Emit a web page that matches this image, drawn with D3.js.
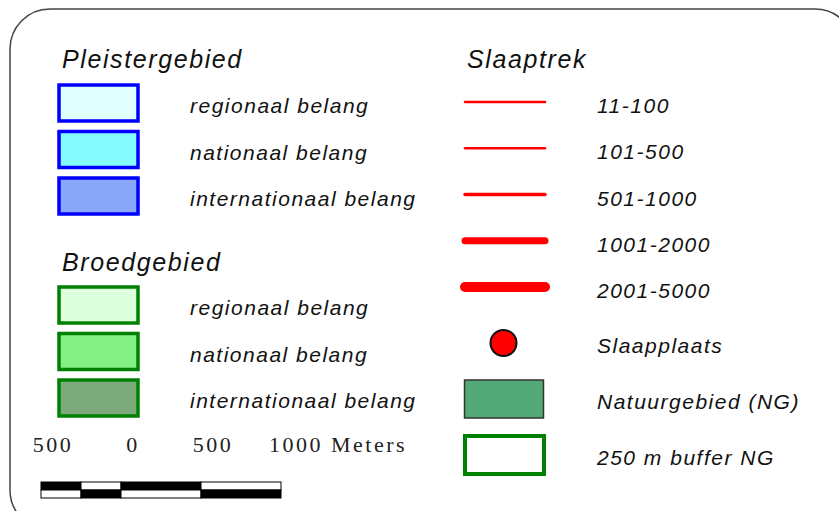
<html>
<head>
	<script src="https://cdn.jsdelivr.net/npm/d3@7"></script>
	<style type="text/css">
	body { margin: 0; background: white; }
	text { font-family: "Liberation Sans", Arial, sans-serif; font-style: italic; fill: #111; }
	.scale text { font-family: "Liberation Serif", "DejaVu Serif", serif; font-style: normal; fill: #222; }
	</style>
</head>
<body>
<script type="text/javascript">
	var w = 839;
	var h = 511;

	// legend data
	var pleisterTitle = "Pleistergebied";
	var pleisterLabels = ["regionaal belang", "nationaal belang", "internationaal belang"];
	var pleisterFills = ["#e0ffff", "#84fbff", "#8aa8fa"];
	var broedTitle = "Broedgebied";
	var broedLabels = ["regionaal belang", "nationaal belang", "internationaal belang"];
	var broedFills = ["#dcffdc", "#84f084", "#7caa7c"];
	var trekTitle = "Slaaptrek";
	var trekLabels = ["11-100", "101-500", "501-1000", "1001-2000", "2001-5000"];
	var trekWidths = [2.5, 2.5, 3.5, 7, 10];
	var otherLabels = ["Slaapplaats", "Natuurgebied (NG)", "250 m buffer NG"];
	var scaleTicks = [-500, 0, 500, 1000];
	var scaleSegments = [-500, -250, 0, 500, 1000];

	var svg = d3.select("body")
		.append("svg")
		.attr("width", w)
		.attr("height", h);

	svg.append("rect")
		.attr("x", 10)
		.attr("y", 9)
		.attr("width", 845)
		.attr("height", 521)
		.attr("rx", 40)
		.attr("fill", "white")
		.attr("stroke", "#444")
		.attr("stroke-width", 1.5);

	// row scales
	var yPleister = d3.scalePoint().domain(pleisterLabels.map(function(d, i) {return i;})).range([103, 196]);
	var yBroed = d3.scalePoint().domain(broedLabels.map(function(d, i) {return i;})).range([305, 398]);
	var yTrek = d3.scalePoint().domain(trekLabels).range([102, 287]);
	var yOther = d3.scalePoint().domain(otherLabels).range([343, 455]);

	function group(title, titleY, labels, fills, yScale, stroke) {
		svg.append("text")
			.text(title)
			.attr("x", 62)
			.attr("y", titleY)
			.attr("font-size", 25)
			.attr("letter-spacing", "1.6px");
		svg.selectAll(null)
			.data(labels)
			.enter()
			.append("rect")
			.attr("x", 59)
			.attr("y", function(d, i) {return yScale(i) - 18;})
			.attr("width", 79)
			.attr("height", 36)
			.attr("fill", function(d, i) {return fills[i];})
			.attr("stroke", stroke)
			.attr("stroke-width", 3.5);
		svg.selectAll(null)
			.data(labels)
			.enter()
			.append("text")
			.text(function(d) {return d;})
			.attr("x", 190)
			.attr("y", function(d, i) {return yScale(i) + 10;})
			.attr("font-size", 21)
			.attr("letter-spacing", "1.5px");
	}

	group(pleisterTitle, 68, pleisterLabels, pleisterFills, yPleister, "#0000ff");
	group(broedTitle, 271, broedLabels, broedFills, yBroed, "#008000");

	// Slaaptrek
	svg.append("text")
		.text(trekTitle)
		.attr("x", 467)
		.attr("y", 68)
		.attr("font-size", 25)
		.attr("letter-spacing", "1.6px");
	svg.selectAll(null)
		.data(trekLabels)
		.enter()
		.append("line")
		.attr("x1", 465)
		.attr("x2", 545)
		.attr("y1", function(d) {return yTrek(d);})
		.attr("y2", function(d) {return yTrek(d);})
		.attr("stroke", "#ff0000")
		.attr("stroke-linecap", "round")
		.attr("stroke-width", function(d, i) {return trekWidths[i];});
	svg.selectAll(null)
		.data(trekLabels.concat(otherLabels))
		.enter()
		.append("text")
		.text(function(d) {return d;})
		.attr("x", 597)
		.attr("y", function(d, i) {return i < trekLabels.length ? yTrek(d) + 11 : yOther(d) + 10;})
		.attr("font-size", 21)
		.attr("letter-spacing", "1.5px");

	// symbols
	svg.append("circle")
		.attr("cx", 503.5)
		.attr("cy", yOther(otherLabels[0]))
		.attr("r", 13)
		.attr("fill", "#ff0000")
		.attr("stroke", "#111")
		.attr("stroke-width", 2);
	svg.append("rect")
		.attr("x", 464.5)
		.attr("y", yOther(otherLabels[1]) - 19)
		.attr("width", 79)
		.attr("height", 38)
		.attr("fill", "#52a877")
		.attr("stroke", "#333")
		.attr("stroke-width", 1.5);
	svg.append("rect")
		.attr("x", 465)
		.attr("y", yOther(otherLabels[2]) - 19)
		.attr("width", 79)
		.attr("height", 38)
		.attr("fill", "white")
		.attr("stroke", "#008000")
		.attr("stroke-width", 4);

	// scale bar
	var xScale = d3.scaleLinear().domain([-500, 1000]).range([41, 281]);
	var sc = svg.append("g").attr("class", "scale");
	sc.selectAll(null)
		.data(scaleTicks)
		.enter()
		.append("text")
		.text(function(d, i) {return Math.abs(d) + (i == scaleTicks.length - 1 ? " Meters" : "");})
		.attr("x", function(d, i) {return i == scaleTicks.length - 1 ? xScale(d) - 12 : xScale(d) + 12;})
		.attr("y", 452)
		.attr("text-anchor", function(d, i) {return i == scaleTicks.length - 1 ? "start" : "middle";})
		.attr("font-size", 22)
		.attr("letter-spacing", "2.5px");
	var segs = d3.pairs(scaleSegments);
	[0, 1].forEach(function(row) {
		sc.selectAll(null)
			.data(segs)
			.enter()
			.append("rect")
			.attr("x", function(d) {return xScale(d[0]);})
			.attr("y", 482 + row * 8)
			.attr("width", function(d) {return xScale(d[1]) - xScale(d[0]);})
			.attr("height", 8)
			.attr("fill", function(d, i) {return (i + row) % 2 == 0 ? "black" : "white";})
			.attr("stroke", "black")
			.attr("stroke-width", 1);
	});
</script>
</body>
</html>
